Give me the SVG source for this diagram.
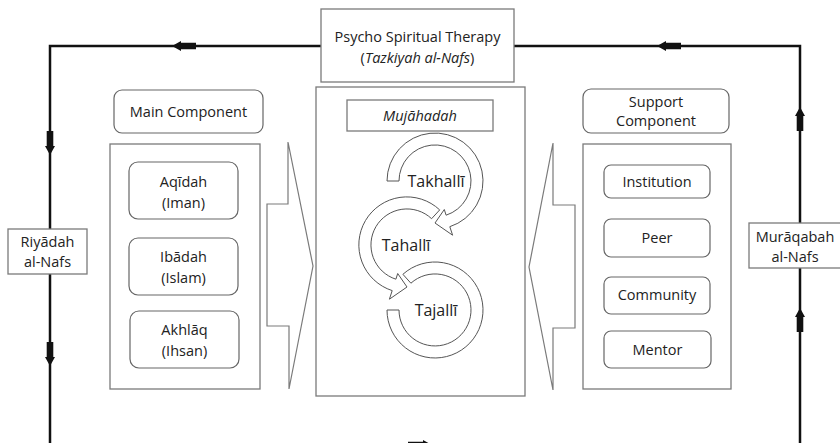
<svg xmlns="http://www.w3.org/2000/svg" width="840" height="443" viewBox="0 0 840 443">
<defs>
<style>
.box{fill:#fff;stroke:#7a7a7a;stroke-width:1.3}
.rbox{fill:#fff;stroke:#666;stroke-width:1.2}
.blk{fill:#fff;stroke:#7a7a7a;stroke-width:1.2;stroke-linejoin:miter}
.ring{fill:#fff;stroke:#555;stroke-width:1}
.conn{fill:none;stroke:#111;stroke-width:2.5}
.arw{fill:#111}
.t{font-family:"Open Sans","Noto Sans",sans-serif;font-size:14.5px;fill:#222;text-anchor:middle}
.tc{font-family:"Open Sans","Noto Sans",sans-serif;font-size:16px;fill:#222;text-anchor:middle}
.i{font-style:italic}
</style>
<path id="ta" d="M0,0 L9,-5 L9,-3.3 L24,-3.3 L24,3.3 L9,3.3 L9,5 Z"/>
</defs>
<rect width="840" height="443" fill="#fff"/>

<g id="connectors">
<path class="conn" d="M321,46 H50 V450"/>
<path class="conn" d="M514,46 H800 V450"/>
<use href="#ta" class="arw" transform="translate(172,46)"/>
<use href="#ta" class="arw" transform="translate(657,46)"/>
<use href="#ta" class="arw" transform="translate(50,155) rotate(-90)"/>
<use href="#ta" class="arw" transform="translate(50,366) rotate(-90)"/>
<use href="#ta" class="arw" transform="translate(800,107) rotate(90)"/>
<use href="#ta" class="arw" transform="translate(800,308) rotate(90)"/>
<use href="#ta" class="arw" transform="translate(432,445) rotate(180)"/>
</g>

<g id="therapy">
<rect class="box" x="321" y="9" width="193" height="73"/>
<text class="t" x="417.5" y="42">Psycho Spiritual Therapy</text>
<text class="t" x="417.5" y="63">(<tspan class="i">Tazkiyah al-Nafs</tspan>)</text>
</g>

<g id="riyadah">
<rect class="box" x="8" y="229" width="79" height="45"/>
<text class="t" x="47.5" y="247">Riyādah</text>
<text class="t" x="47.5" y="267">al-Nafs</text>
</g>

<g id="muraqabah">
<rect class="box" x="749" y="223" width="95" height="45"/>
<text class="t" x="795" y="242">Murāqabah</text>
<text class="t" x="795" y="262">al-Nafs</text>
</g>

<g id="main-component">
<rect class="rbox" x="114" y="90" width="149" height="43" rx="8"/>
<text class="t" x="188.5" y="117">Main Component</text>
</g>

<g id="main-container">
<rect class="box" x="110" y="144" width="150" height="245"/>
</g>

<g id="aqidah">
<rect class="rbox" x="129" y="162" width="109" height="57" rx="9"/>
<text class="t" x="183.5" y="187">Aqīdah</text>
<text class="t" x="183.5" y="208">(Iman)</text>
</g>
<g id="ibadah">
<rect class="rbox" x="129" y="238" width="109" height="57" rx="9"/>
<text class="t" x="183.5" y="262">Ibādah</text>
<text class="t" x="183.5" y="283">(Islam)</text>
</g>
<g id="akhlaq">
<rect class="rbox" x="130" y="311" width="109" height="57" rx="9"/>
<text class="t" x="184.5" y="335">Akhlāq</text>
<text class="t" x="184.5" y="356">(Ihsan)</text>
</g>

<g id="arrow-left-block">
<polygon class="blk" points="267,204 288,204 288,142 313,266 289,389 289,326 267,326"/>
</g>

<g id="mujahadah-container">
<rect class="box" x="316" y="87" width="209" height="309"/>
</g>
<g id="mujahadah">
<rect class="box" x="347" y="100" width="146" height="31"/>
<text class="t i" x="420" y="121">Mujāhadah</text>
</g>

<g id="takhalli">
<path class="ring" d="M387,181 A48,48 0 1 1 449.8,226.7 L452.6,235.2 L435,223 L444.3,209.5 L446.1,215.2 A36,36 0 1 0 399,181 Z"/>
<text class="tc" x="436" y="187">Takhallī</text>
</g>
<g id="tajalli">
<path class="ring" d="M387,310 A48,48 0 1 0 402.9,274.3 L410.9,283.2 A36,36 0 1 1 399,310 Z"/>
<text class="tc" x="436" y="316">Tajallī</text>
</g>
<g id="tahalli">
<path class="ring" d="M439.7,209.9 A48,48 0 1 0 392.2,290.6 L389.4,299.2 L407,287 L397.7,273.5 L395.9,279.2 A36,36 0 1 1 431.6,218.7 Z"/>
<text class="tc" x="406" y="251">Tahallī</text>
</g>

<g id="arrow-right-block">
<polygon class="blk" points="575,205 553,205 553,143 529,267 553,390 553,328 575,328"/>
</g>

<g id="support-component">
<rect class="rbox" x="583" y="89" width="146" height="44" rx="8"/>
<text class="t" x="656" y="107">Support</text>
<text class="t" x="656" y="126">Component</text>
</g>
<g id="support-container">
<rect class="box" x="583" y="144" width="148" height="245"/>
</g>
<g id="institution">
<rect class="rbox" x="604" y="165" width="106" height="33" rx="7"/>
<text class="t" x="657" y="187">Institution</text>
</g>
<g id="peer">
<rect class="rbox" x="604" y="219" width="106" height="38" rx="7"/>
<text class="t" x="657" y="243">Peer</text>
</g>
<g id="community">
<rect class="rbox" x="604" y="277" width="106" height="37" rx="7"/>
<text class="t" x="657" y="300">Community</text>
</g>
<g id="mentor">
<rect class="rbox" x="604" y="331" width="107" height="37" rx="7"/>
<text class="t" x="657.5" y="355">Mentor</text>
</g>
</svg>
